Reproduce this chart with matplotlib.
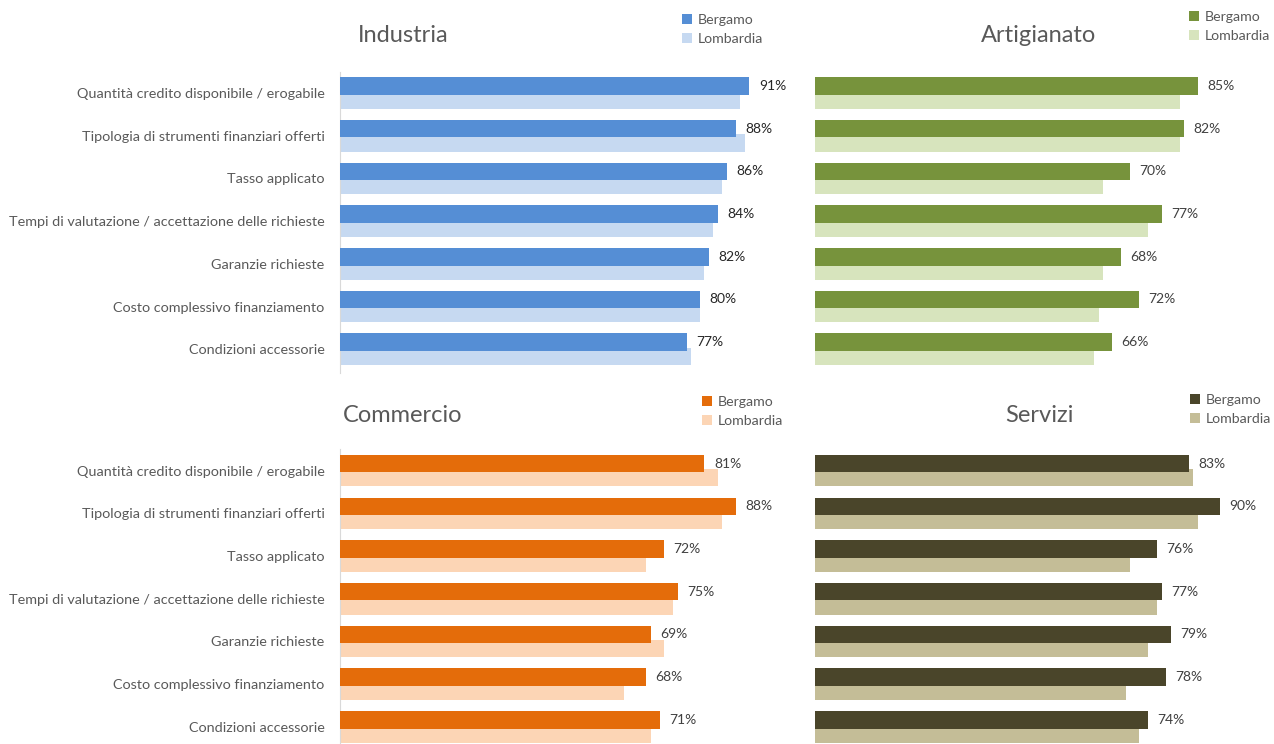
import matplotlib
matplotlib.use("Agg")
import matplotlib.pyplot as plt
import numpy as np

# categorie (dall'alto verso il basso)
categorie = [
    "Quantità credito disponibile / erogabile",
    "Tipologia di strumenti finanziari offerti",
    "Tasso applicato",
    "Tempi di valutazione / accettazione delle richieste",
    "Garanzie richieste",
    "Costo complessivo finanziamento",
    "Condizioni accessorie",
]

# valori percentuali per settore
industria_bg = [91, 88, 86, 84, 82, 80, 77]
industria_lom = [89, 90, 85, 83, 81, 80, 78]
artigianato_bg = [85, 82, 70, 77, 68, 72, 66]
artigianato_lom = [81, 81, 64, 74, 64, 63, 62]
commercio_bg = [81, 88, 72, 75, 69, 68, 71]
commercio_lom = [84, 85, 68, 74, 72, 63, 69]
servizi_bg = [83, 90, 76, 77, 79, 78, 74]
servizi_lom = [84, 85, 70, 76, 74, 69, 72]

plt.rcParams["font.family"] = ["Lato", "DejaVu Sans"]

W, H = 1274, 744
fig = plt.figure(figsize=(W / 100, H / 100), dpi=100)

TEXT = "#595959"

# titolo, dati, colori, posizione asse / titolo / legenda in pixel
pannelli = [
    ("Industria", industria_bg, industria_lom, "#558ED5", "#C6D9F1",
     340, 71.7, 403, 36, 682, 14, True, "#262626"),
    ("Artigianato", artigianato_bg, artigianato_lom, "#77933C", "#D7E4BD",
     815, 71.7, 1039, 36, 1189, 11, False, "#404040"),
    ("Commercio", commercio_bg, commercio_lom, "#E46C0A", "#FCD5B5",
     340, 449.3, 403, 416, 702, 396, True, "#404040"),
    ("Servizi", servizi_bg, servizi_lom, "#4A452A", "#C4BD97",
     815, 449.3, 1039, 416, 1190, 394, False, "#404040"),
]

y = np.arange(len(categorie))
h = 0.41

for (titolo, bg, lom, c_bg, c_lom, x0, top, tx, ty, lx, ly,
     etichette, col_val) in pannelli:
    ax = fig.add_axes([x0 / W, (H - top - 301) / H, 450 / W, 301 / H])
    b_lom = ax.barh(y + 0.165, lom, height=h, color=c_lom, label="Lombardia", zorder=2)
    b_bg = ax.barh(y - 0.165, bg, height=h, color=c_bg, label="Bergamo", zorder=3)
    ax.bar_label(b_bg, labels=[f"{v}%" for v in bg], padding=7,
                 fontsize=10, color=col_val)
    ax.set_xlim(0, 100)
    ax.set_ylim(6.55, -0.5)
    ax.set_xticks([])
    for s in ["top", "right", "bottom"]:
        ax.spines[s].set_visible(False)
    if etichette:
        ax.spines["left"].set_color("#D9D9D9")
        ax.set_yticks(y)
        ax.set_yticklabels(categorie, fontsize=10.4, color=TEXT)
        ax.tick_params(axis="y", length=0, pad=11)
    else:
        ax.spines["left"].set_visible(False)
        ax.set_yticks([])

    fig.text(tx / W, 1 - ty / H, titolo, ha="center", va="center",
             fontsize=17, color=TEXT)
    fig.legend([b_bg, b_lom], ["Bergamo", "Lombardia"], loc="upper left",
               bbox_to_anchor=(lx / W, 1 - ly / H), bbox_transform=fig.transFigure,
               frameon=False, fontsize=10.2, labelcolor=TEXT,
               handlelength=0.7, handleheight=0.7, handletextpad=0.4,
               labelspacing=0.5, borderpad=0, borderaxespad=0)

fig.savefig("out.png", dpi=100)
